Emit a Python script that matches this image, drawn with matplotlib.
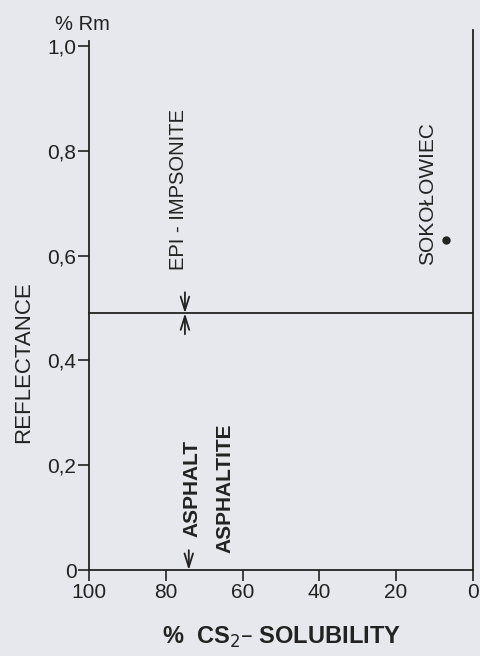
import matplotlib.pyplot as plt

plt.rcParams['font.family'] = ['Liberation Sans', 'DejaVu Sans']

# reflectance boundary between asphalt/asphaltite and epi-impsonite
boundary_rm = 0.49
boundary_sol = 75
asphalt_sol = 74

# single sample point
sample_name = 'SOKOŁOWIEC'
sample_sol = 7
sample_rm = 0.63

x_ticks = [100, 80, 60, 40, 20, 0]
y_ticks = [0, 0.2, 0.4, 0.6, 0.8, 1.0]
y_ticklabels = ['0', '0,2', '0,4', '0,6', '0,8', '1,0']

bg = '#e7e8ed'
ink = '#222222'

fig = plt.figure(figsize=(4.81, 6.56), dpi=100, facecolor=bg)
ax = fig.add_axes([0.185, 0.131, 0.798, 0.823], facecolor=bg)

ax.set_xlim(100, 0)
ax.set_ylim(0, 1.03)

for s in ['left', 'bottom', 'right']:
    ax.spines[s].set_color(ink)
    ax.spines[s].set_linewidth(1.3)
ax.spines['top'].set_visible(False)
ax.spines['left'].set_bounds(0, 1.01)

ax.set_xticks(x_ticks)
ax.set_xticklabels([str(v) for v in x_ticks])
ax.set_yticks(y_ticks)
ax.set_yticklabels(y_ticklabels)
ax.tick_params(axis='both', colors=ink, labelsize=15, width=1.2, length=8, pad=1)

# boundary line across the plot
ax.plot([100, 0], [boundary_rm, boundary_rm], color=ink, lw=1.3, clip_on=False)

arrow = dict(arrowstyle='->,head_width=0.22,head_length=0.7', color=ink, lw=1.3,
             mutation_scale=14, shrinkA=0, shrinkB=0)
# arrows pointing at the boundary from both sides
ax.annotate('', xy=(boundary_sol, boundary_rm), xytext=(boundary_sol, boundary_rm + 0.04),
            arrowprops=arrow)
ax.annotate('', xy=(boundary_sol, boundary_rm), xytext=(boundary_sol, boundary_rm - 0.04),
            arrowprops=arrow)
# arrow down to the solubility axis
ax.annotate('', xy=(asphalt_sol, 0), xytext=(asphalt_sol, 0.038), arrowprops=arrow)

ax.text(76.8, 0.573, 'EPI - IMPSONITE', rotation=90, ha='center', va='bottom',
        fontsize=14.5, color=ink)
ax.text(73.2, 0.063, 'ASPHALT', rotation=90, ha='center', va='bottom',
        fontsize=15, color=ink, fontweight='bold')
ax.text(64.6, 0.032, 'ASPHALTITE', rotation=90, ha='center', va='bottom',
        fontsize=15, color=ink, fontweight='bold')

ax.plot([sample_sol], [sample_rm], 'o', color=ink, ms=5)
ax.text(11.8, 0.582, sample_name, rotation=90, ha='center', va='bottom',
        fontsize=15, color=ink)

fig.text(0.05, 0.448, 'REFLECTANCE', rotation=90, ha='center', va='center',
         fontsize=16, color=ink)
fig.text(0.115, 0.963, '% Rm', ha='left', va='center', fontsize=14.5, color=ink)
fig.text(0.585, 0.029, r'%  CS$_2$– SOLUBILITY', ha='center', va='center',
         fontsize=17, color=ink, fontweight='bold')

fig.savefig('out.png', dpi=100, facecolor=bg)
